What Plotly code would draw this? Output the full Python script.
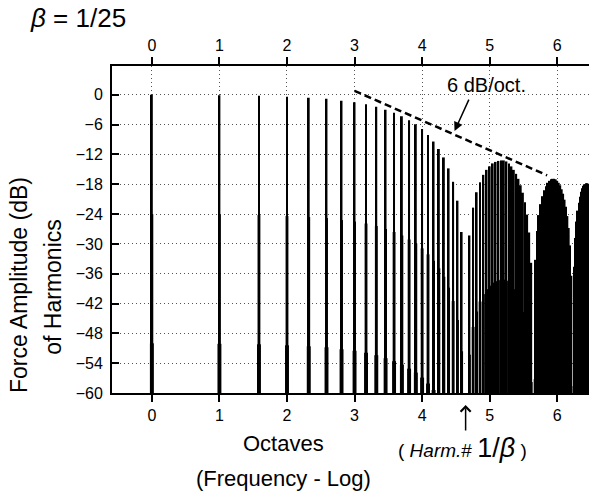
import math
import plotly.graph_objects as go

# ---------------- data ----------------
beta_label = "1/25"
harmonics = list(range(1, 92))
# amplitude of each harmonic (dB)
amp_db = [
    -0.0, -0.1, -0.2, -0.4, -0.6, -0.8, -1.2, -1.5, -1.9, -2.4,
    -3.0, -3.6, -4.3, -5.1, -5.9, -6.9, -8.1, -9.4, -10.9, -12.6,
    -14.8, -17.5, -21.3, -27.6, -60.0,
    -28.3, -22.7, -19.6, -17.6, -16.1, -15.1, -14.4, -13.8, -13.5, -13.3,
    -13.2, -13.2, -13.4, -13.8, -14.4, -15.1, -15.9, -16.9, -18.2, -19.7,
    -21.6, -24.1, -27.7, -33.8, -60.0,
    -33.2, -27.4, -24.2, -22.0, -20.4, -19.2, -18.4, -17.7, -17.3, -17.0,
    -16.9, -16.9, -17.0, -17.3, -17.7, -18.2, -19.0, -19.9, -21.1, -22.5,
    -24.4, -26.8, -30.3, -36.4, -60.0,
    -34.6, -28.8, -25.5, -23.3, -21.7, -20.5, -19.5, -18.8, -18.3, -18.0,
    -17.8, -17.8, -17.9, -18.1, -18.5, -19.0,
]
x_ticks = [0, 1, 2, 3, 4, 5, 6]
y_ticks = [-60, -54, -48, -42, -36, -30, -24, -18, -12, -6, 0]
slope_x = [3.0, 5.85]      # octaves
slope_y = [0.8, -16.2]     # dB
floor_db = -60
harm_inv_beta = 25

octaves = [math.log2(n) for n in harmonics]

fig = go.Figure()

def bar_layer(width, drop):
    tops = [max(a - drop, floor_db) for a in amp_db]
    fig.add_trace(go.Bar(
        x=octaves, y=[t - floor_db for t in tops], base=floor_db,
        width=width, marker=dict(color="black", line=dict(width=0)),
        hoverinfo="skip", showlegend=False))

bar_layer(0.058, 50)
bar_layer(0.042, 24)
bar_layer(0.028, 0)

fig.add_trace(go.Scatter(
    x=slope_x, y=slope_y, mode="lines",
    line=dict(color="black", width=2.5, dash="7px,4px"),
    showlegend=False, hoverinfo="skip"))

# invisible trace on the top axis
fig.add_trace(go.Scatter(x=[0], y=[floor_db], xaxis="x2", mode="markers",
                         marker=dict(opacity=0), showlegend=False, hoverinfo="skip"))

FONT = "Liberation Sans, Arial, sans-serif"
GRID = "#555"
xr = [-0.59, 6.47]
fig.update_layout(
    width=589, height=491,
    margin=dict(l=112, r=0, t=66, b=98),
    paper_bgcolor="white", plot_bgcolor="white",
    barmode="overlay",
    font=dict(family=FONT, color="black"),
    xaxis=dict(range=xr, tickvals=x_ticks, ticks="outside", ticklen=7,
               tickwidth=1.5, tickcolor="black",
               showline=True, linecolor="black", linewidth=2,
               showgrid=True, gridcolor=GRID, griddash="1px,3px", gridwidth=1,
               zeroline=False, tickfont=dict(size=16)),
    xaxis2=dict(range=xr, overlaying="x", side="top", matches="x",
                tickvals=x_ticks, ticks="outside", ticklen=7, tickwidth=1.5,
                tickcolor="black", showline=True, linecolor="black", linewidth=2,
                showgrid=False, zeroline=False, tickfont=dict(size=16)),
    yaxis=dict(range=[-60, 5.8], tickvals=y_ticks, ticks="inside", ticklen=7,
               tickwidth=1.5, tickcolor="black",
               showline=True, linecolor="black", linewidth=2,
               showgrid=True, gridcolor=GRID, griddash="1px,3px", gridwidth=1,
               zeroline=False, tickfont=dict(size=16), ticklabelstandoff=4),
)

ann = []
ann.append(dict(text="<i>β</i> = " + beta_label, xref="paper", yref="paper",
                x=-0.176, y=1.147, xanchor="left", yanchor="middle",
                showarrow=False, font=dict(size=26)))
ann.append(dict(text="Force Amplitude (dB)", xref="paper", yref="paper",
                x=-0.195, y=0.33, textangle=-90, showarrow=False,
                xanchor="center", yanchor="middle", font=dict(size=23)))
ann.append(dict(text="of Harmonics", xref="paper", yref="paper",
                x=-0.1237, y=0.325, textangle=-90, showarrow=False,
                xanchor="center", yanchor="middle", font=dict(size=23)))
ann.append(dict(text="Octaves", xref="paper", yref="paper",
                x=0.3585, y=-0.153, showarrow=False,
                xanchor="center", yanchor="middle", font=dict(size=22)))
ann.append(dict(text="(Frequency - Log)", xref="paper", yref="paper",
                x=0.3585, y=-0.26, showarrow=False,
                xanchor="center", yanchor="middle", font=dict(size=22)))
ann.append(dict(text="( <i>Harm.</i># <span style='font-size:27px'>1/<i>β</i></span> )",
                xref="paper", yref="paper", x=0.734, y=-0.168, showarrow=False,
                xanchor="center", yanchor="middle", font=dict(size=19)))
ann.append(dict(text="", x=math.log2(harm_inv_beta), xref="x", y=-0.037, yref="paper",
                showarrow=True, ax=0, ay=27, arrowhead=4, arrowsize=1.3,
                arrowwidth=1.5, arrowcolor="black"))
ann.append(dict(text="6 dB/oct.", x=4.96, y=2.0, xref="x", yref="y",
                showarrow=False, xanchor="center", yanchor="middle",
                font=dict(size=20)))
ann.append(dict(text="", x=4.48, y=-7.3, xref="x", yref="y",
                showarrow=True, ax=15, ay=-33, arrowhead=2, arrowsize=1.2,
                arrowwidth=1.5, arrowcolor="black"))
fig.update_layout(annotations=ann)

fig.write_html("out.html", config={"displayModeBar": False},
               post_script="document.body.style.margin='0';document.body.style.overflow='hidden';")
